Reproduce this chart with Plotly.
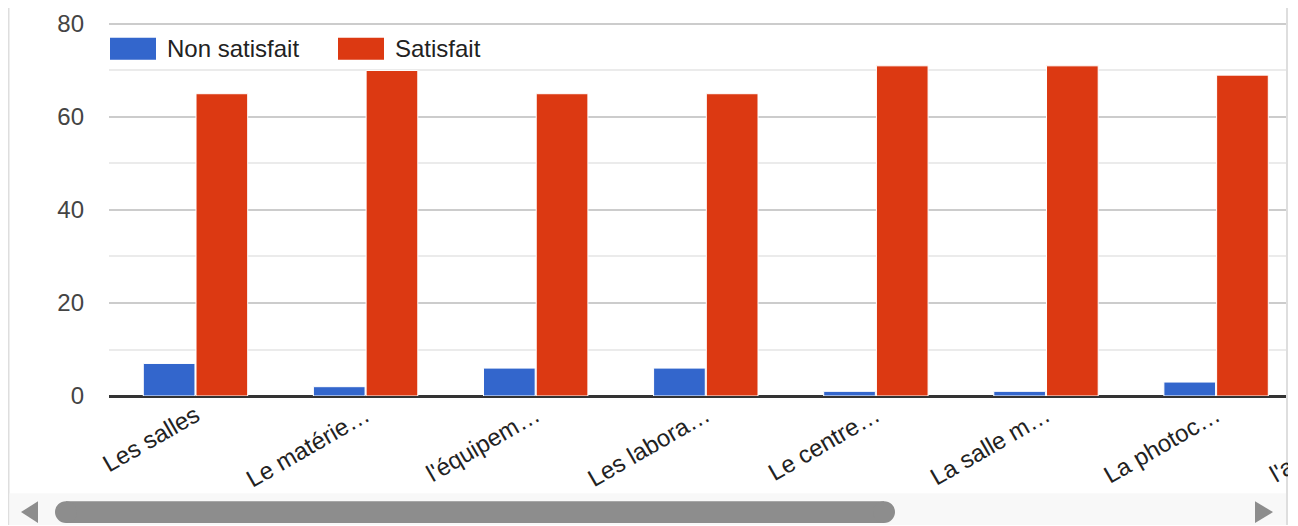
import plotly.graph_objects as go

# ---- data ----
categories = ["Les salles", "Le matérie…", "l'équipem…", "Les labora…",
              "Le centre…", "La salle m…", "La photoc…", "l'amphithé…"]
non_satisfait = [7, 2, 6, 6, 1, 1, 3, None]
satisfait = [65, 70, 65, 65, 71, 71, 69, None]
y_ticks = [0, 20, 40, 60, 80]
series_names = ["Non satisfait", "Satisfait"]
series_colors = ["#3366cc", "#dc3912"]

# ---- geometry (reference page pixels; the page body adds an 8px offset) ----
OX, OY = 8, 8
W, H = 1288 - OX, 526 - OY
L, R, T, B = 109 - OX, 2, 10, 130
PW, PH = W - L - R, H - T - B
x_range = [-0.5085, 6.411]
y_range = [0, 80.64]


def px(x):
    return (x - OX - L) / PW


def py(y):
    return (H - B - (y - OY)) / PH


FONT = "Liberation Sans, Arial, sans-serif"

fig = go.Figure()
for name, vals, col in zip(series_names, [non_satisfait, satisfait], series_colors):
    fig.add_trace(go.Bar(x=categories, y=vals, name=name,
                         marker=dict(color=col, line=dict(color="white", width=1)),
                         showlegend=False))

shapes = []
annotations = []

# custom legend
leg_x = [110, 338]
for i, (name, col) in enumerate(zip(series_names, series_colors)):
    x0 = leg_x[i]
    shapes.append(dict(type="rect", xref="paper", yref="paper",
                       x0=px(x0), x1=px(x0 + 46), y0=py(57), y1=py(35),
                       fillcolor=col, line=dict(width=0), layer="above"))
    annotations.append(dict(text=name, xref="paper", yref="paper",
                            x=px(x0 + 55), y=py(46), xanchor="left", yanchor="middle",
                            showarrow=False, font=dict(family=FONT, size=24, color="#222222")))

# clipped 8th tick label (outside the visible scroll area)
idx = len(categories) - 1
annotations.append(dict(text=categories[idx], xref="paper", yref="paper",
                        x=(idx - x_range[0]) / (x_range[1] - x_range[0]) + 10 / PW,
                        y=py(395), xanchor="right", yanchor="top", textangle=-30,
                        showarrow=False, font=dict(family=FONT, size=24, color="#222222")))

# container borders
shapes.append(dict(type="line", xref="paper", yref="paper", x0=px(8.5), x1=px(8.5),
                   y0=py(0), y1=py(526), line=dict(color="#dedede", width=2), layer="above"))
shapes.append(dict(type="line", xref="paper", yref="paper", x0=px(1287), x1=px(1287),
                   y0=py(0), y1=py(526), line=dict(color="#dedede", width=2), layer="above"))

# scrollbar
shapes.append(dict(type="rect", xref="paper", yref="paper", x0=px(9.5), x1=px(1286),
                   y0=py(526), y1=py(494), fillcolor="#f8f8f8", line=dict(width=0), layer="above"))
thumb = "#8d8d8d"
shapes.append(dict(type="rect", xref="paper", yref="paper", x0=px(66), x1=px(884),
                   y0=py(524), y1=py(502), fillcolor=thumb, line=dict(width=0), layer="above"))
for cx in (55, 873):
    shapes.append(dict(type="circle", xref="paper", yref="paper", x0=px(cx), x1=px(cx + 22),
                       y0=py(524), y1=py(502), fillcolor=thumb, line=dict(width=0), layer="above"))
shapes.append(dict(type="path", xref="paper", yref="paper",
                   path=f"M {px(38)} {py(502)} L {px(38)} {py(524)} L {px(21)} {py(513)} Z",
                   fillcolor=thumb, line=dict(width=0), layer="above"))
shapes.append(dict(type="path", xref="paper", yref="paper",
                   path=f"M {px(1255)} {py(502)} L {px(1255)} {py(524)} L {px(1273)} {py(513)} Z",
                   fillcolor=thumb, line=dict(width=0), layer="above"))

fig.update_layout(
    width=W, height=H,
    margin=dict(l=L, r=R, t=T, b=B, pad=0),
    paper_bgcolor="white", plot_bgcolor="white",
    barmode="group", bargap=0.38, bargroupgap=0.02,
    font=dict(family=FONT, size=24, color="#222222"),
    shapes=shapes, annotations=annotations,
    xaxis=dict(type="category", categoryorder="array", categoryarray=categories,
               range=x_range, tickangle=-30, showgrid=False, showline=False, ticks="",
               tickfont=dict(family=FONT, size=24, color="#222222"), fixedrange=True),
    yaxis=dict(range=y_range, tickvals=y_ticks, showgrid=True, gridcolor="#cccccc", gridwidth=2,
               zeroline=True, zerolinecolor="#333333", zerolinewidth=3,
               showline=False, ticks="", ticklabelstandoff=24, ticklabeloverflow="allow",
               tickfont=dict(family=FONT, size=24, color="#444444"),
               minor=dict(dtick=10, tick0=0, showgrid=True, gridcolor="#ebebeb", gridwidth=2),
               fixedrange=True),
)

fig.write_html("out.html", config={"displayModeBar": False})
